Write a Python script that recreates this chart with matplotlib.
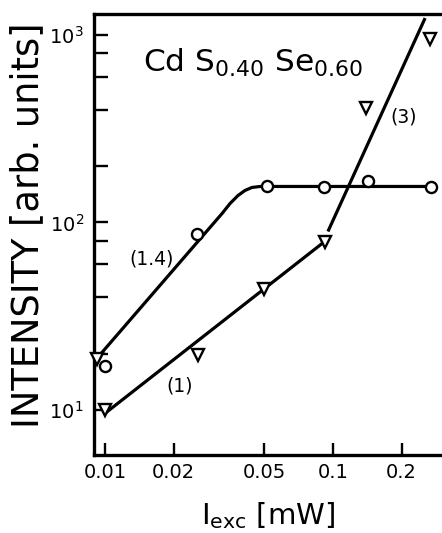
import matplotlib
matplotlib.use("Agg")
import matplotlib.pyplot as plt
from matplotlib.ticker import FixedLocator, NullLocator, FixedFormatter

# Data
circle_x = [0.01, 0.0253, 0.0514, 0.0912, 0.1425, 0.269]
circle_y = [17.2, 86.3, 155.6, 155.0, 167.0, 155.0]

tri_x = [0.00923, 0.01, 0.0255, 0.050, 0.092, 0.140, 0.267]
tri_y = [18.7, 10.0, 19.6, 44.0, 79.0, 410.0, 952.0]

# fitted curves
fit14_x = [0.00923, 0.03262, 0.03536, 0.03832, 0.04111, 0.0441, 0.04785, 0.269]
fit14_y = [18.9, 111.7, 126.3, 139.3, 148.2, 153.7, 155.6, 155.6]

fit1_x = [0.0099, 0.0905]
fit1_y = [9.5, 78.0]

fit3_x = [0.095, 0.2535]
fit3_y = [89.5, 1231.0]

xticks = [0.01, 0.02, 0.05, 0.1, 0.2]
xticklabels = ["0.01", "0.02", "0.05", "0.1", "0.2"]
yticks_major = [10, 100, 1000]
yticks_minor = [20, 40, 60, 80, 200, 400, 600, 800]

labels = ["(1.4)", "(1)", "(3)"]
label_pos = [(0.01592, 63.5), (0.02133, 13.4), (0.205, 366.0)]

plt.rcParams['font.family'] = ['DejaVu Sans']
fig = plt.figure(figsize=(4.42, 5.33), dpi=100)
ax = fig.add_axes([93.5 / 442, 1 - 455 / 533, 1 - 93.5 / 442, (455 - 14) / 533])
ax.set_xscale('log')
ax.set_yscale('log')
ax.set_xlim(0.0089, 0.3006)
ax.set_ylim(5.75, 1294)

lw = 2.3
ax.plot(fit14_x, fit14_y, color='black', lw=lw, solid_capstyle='butt',
        solid_joinstyle='round', zorder=2)
ax.plot(fit1_x, fit1_y, color='black', lw=lw, solid_capstyle='butt', zorder=2)
ax.plot(fit3_x, fit3_y, color='black', lw=lw, solid_capstyle='butt', zorder=2)

ax.plot(circle_x, circle_y, linestyle='none', marker='o', markersize=8,
        markerfacecolor='white', markeredgecolor='black', markeredgewidth=1.7, zorder=3,
        clip_on=False)
ax.plot(tri_x, tri_y, linestyle='none', marker='v', markersize=8.5,
        markerfacecolor='white', markeredgecolor='black', markeredgewidth=1.7, zorder=3,
        clip_on=False)

for t, (x, y) in zip(labels, label_pos):
    ax.text(x, y, t, fontsize=13.5, ha='center', va='center')

ax.text(0.01468, 635, r"Cd S$_{0.40}$ Se$_{0.60}$", fontsize=22.5, ha='left', va='baseline')

ax.xaxis.set_major_locator(FixedLocator(xticks))
ax.xaxis.set_major_formatter(FixedFormatter(xticklabels))
ax.xaxis.set_minor_locator(NullLocator())
ax.yaxis.set_major_locator(FixedLocator(yticks_major))
ax.yaxis.set_minor_locator(FixedLocator(yticks_minor))

ax.tick_params(axis='both', which='both', direction='in', width=1.7, labelsize=14)
ax.tick_params(axis='x', which='major', length=9, pad=6)
ax.tick_params(axis='y', which='major', length=10, pad=7)
ax.tick_params(axis='y', which='minor', length=10)

for s in ['left', 'top', 'bottom']:
    ax.spines[s].set_linewidth(2.4)
ax.spines['right'].set_visible(False)

fig.text(268 / 442, 1 - 516 / 533, r"I$_{\mathrm{exc}}$ [mW]", fontsize=21, ha='center', va='center')
fig.text(28 / 442, 1 - 225 / 533, "INTENSITY [arb. units]", fontsize=26.5, rotation=90,
         ha='center', va='center')

fig.savefig("out.png", dpi=100)
